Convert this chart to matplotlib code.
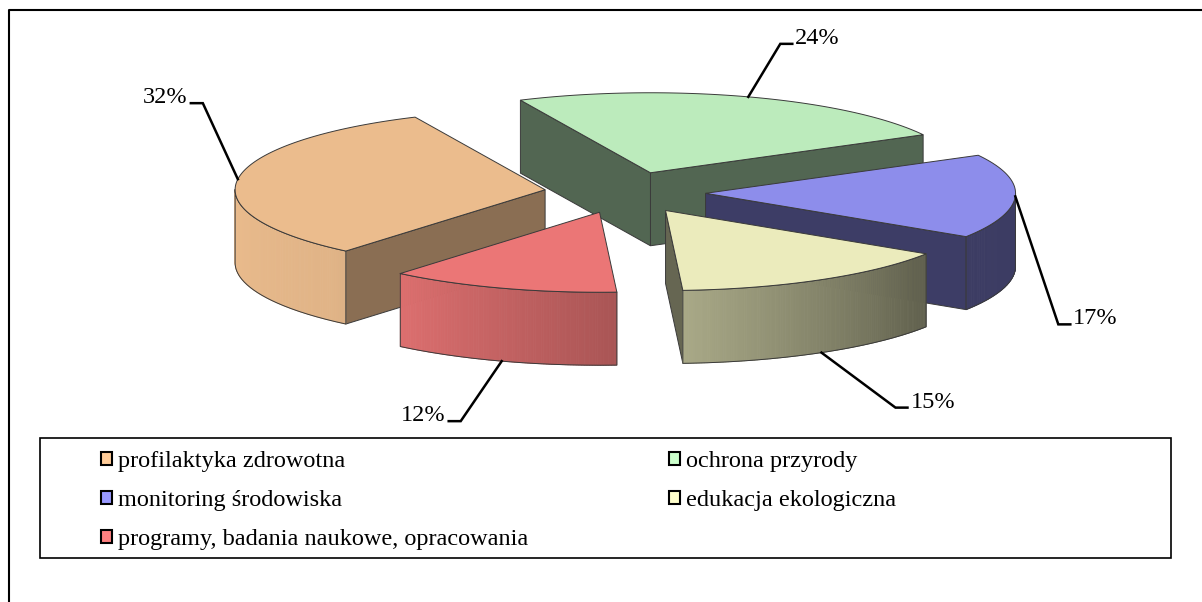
import numpy as np
import matplotlib
matplotlib.use("Agg")
import matplotlib.pyplot as plt
from matplotlib.patches import Polygon, Rectangle, Patch
from matplotlib.colors import to_rgb

# ---------------- data ----------------
categories = ["profilaktyka zdrowotna", "ochrona przyrody", "monitoring środowiska",
              "edukacja ekologiczna", "programy, badania naukowe, opracowania"]
shares = [32, 24, 17, 15, 12]
value_labels = ["32%", "24%", "17%", "15%", "12%"]
base_colors = ["#FFCC99", "#CCFFCC", "#9999FF", "#FFFFCC", "#FF8080"]

# ---------------- layout / style ----------------
W, H = 1202, 602
CX, CY = 625.0, 192.5       # pie centre (top face)
RA, RB = 310.0, 80.0        # projected radii
DEPTH = 73.0                # slice thickness
EXPLODE = 0.26
START = 230.0               # first slice start angle (deg), clockwise
TOP_SHADE = 0.92
CUT_SHADE = [0.54, 0.40, 0.40, 0.40, 0.40]
SIDE_ANG = [180, 227, 270, 324, 360]
SIDE_F = [0.92, 0.88, 0.68, 0.39, 0.39]
EDGE = "#3a3a3a"
leader_offsets = [(-35, -76), (32, -53), (43, 128), (74, 55), (-41, 60)]
FONT = "Liberation Serif"
FS = 17.5

fig = plt.figure(figsize=(W / 100, H / 100), dpi=100)
ax = fig.add_axes([0, 0, 1, 1])
ax.set_xlim(0, W)
ax.set_ylim(H, 0)
ax.axis("off")


def proj(cx, cy, th, z=0.0):
    t = np.radians(th)
    return cx + RA * np.cos(t), cy - RB * np.sin(t) + z


def shade(c, f):
    r, g, b = to_rgb(c)
    return (r * f, g * f, b * f)


# slice geometry
spans = np.array(shares) / sum(shares) * 360.0
his = START - np.concatenate([[0], np.cumsum(spans)[:-1]])
los = his - spans
mids = (his + los) / 2
centres = [(CX + EXPLODE * RA * np.cos(np.radians(m)),
            CY - EXPLODE * RB * np.sin(np.radians(m))) for m in mids]

order = np.argsort([c[1] for c in centres])

for i in order:
    cx, cy = centres[i]
    lo, hi = los[i], his[i]
    col = base_colors[i]
    # cut faces
    for ang, vis in ((lo, np.cos(np.radians(lo)) > 0), (hi, np.cos(np.radians(hi)) < 0)):
        if vis:
            px, py = proj(cx, cy, ang)
            poly = [(cx, cy), (px, py), (px, py + DEPTH), (cx, cy + DEPTH)]
            ax.add_patch(Polygon(poly, closed=True, facecolor=shade(col, CUT_SHADE[i]),
                                 edgecolor=EDGE, linewidth=0.7, zorder=2))
    # outer side (front part)
    for k in (-1, 0, 1):
        a0 = max(lo, -180 + 360 * k)
        a1 = min(hi, 360 * k)
        if a1 <= a0:
            continue
        ths = np.linspace(a0, a1, max(2, int((a1 - a0) * 2) + 1))
        for t0, t1 in zip(ths[:-1], ths[1:]):
            tm = ((t0 + t1) / 2) % 360
            f = np.interp(tm, SIDE_ANG, SIDE_F)
            x0, y0 = proj(cx, cy, t0)
            x1, y1 = proj(cx, cy, t1)
            c = shade(col, f)
            ax.add_patch(Polygon([(x0, y0), (x1, y1), (x1, y1 + DEPTH), (x0, y0 + DEPTH)],
                                 closed=True, facecolor=c, edgecolor=c, linewidth=0.6, zorder=2))
        xs, ys = proj(cx, cy, ths)
        outline_x = np.concatenate([xs, xs[::-1], xs[:1]])
        outline_y = np.concatenate([ys, ys[::-1] + DEPTH, ys[:1]])
        ax.plot(outline_x, outline_y, color=EDGE, linewidth=0.7, zorder=2)
    # top face
    ths = np.linspace(lo, hi, int(spans[i] * 2) + 2)
    xs, ys = proj(cx, cy, ths)
    pts = [(cx, cy)] + list(zip(xs, ys))
    ax.add_patch(Polygon(pts, closed=True, facecolor=shade(col, TOP_SHADE),
                         edgecolor=EDGE, linewidth=0.7, zorder=2))

# value labels with leader lines
for i in range(len(shares)):
    cx, cy = centres[i]
    m = mids[i]
    z = 0.0 if np.sin(np.radians(m)) >= -0.1 else DEPTH
    axp, ayp = proj(cx, cy, m, z)
    dx, dy = leader_offsets[i]
    ex, ey = axp + dx, ayp + dy
    sgn = 1 if dx > 0 else -1
    hx = ex + sgn * 12
    ax.plot([axp, ex, hx], [ayp, ey, ey], color="black", linewidth=1.8, zorder=3,
            solid_joinstyle="miter")
    ax.text(hx + sgn * 3, ey, value_labels[i], ha="left" if sgn > 0 else "right",
            va="baseline", fontsize=FS, family=FONT, color="black", zorder=4)

# chart frame (top and left borders)
ax.plot([9, 9, W + 5], [H + 5, 10, 10], color="black", linewidth=1.5, zorder=1)

# legend box
ax.add_patch(Rectangle((40, 438), 1131, 120, fill=False, edgecolor="black",
                       linewidth=1.2, zorder=1))

handles = [Patch(facecolor=c, edgecolor="black", linewidth=1.5) for c in base_colors]
leg_kw = dict(frameon=False, prop={"family": FONT, "size": FS}, handlelength=0.46,
              handleheight=0.46, handletextpad=0.25, labelspacing=0.74, borderpad=0,
              borderaxespad=0)
cols = [(0, 2, 4), (1, 3)]
col_x = [101, 669]
legs = []
for idx, x in zip(cols, col_x):
    lg = fig.legend([handles[j] for j in idx], [categories[j] for j in idx],
                    loc="upper left", bbox_to_anchor=(x / W, 1 - 451 / H), **leg_kw)
    legs.append(lg)

fig.savefig("out.png", dpi=100, facecolor="white")
